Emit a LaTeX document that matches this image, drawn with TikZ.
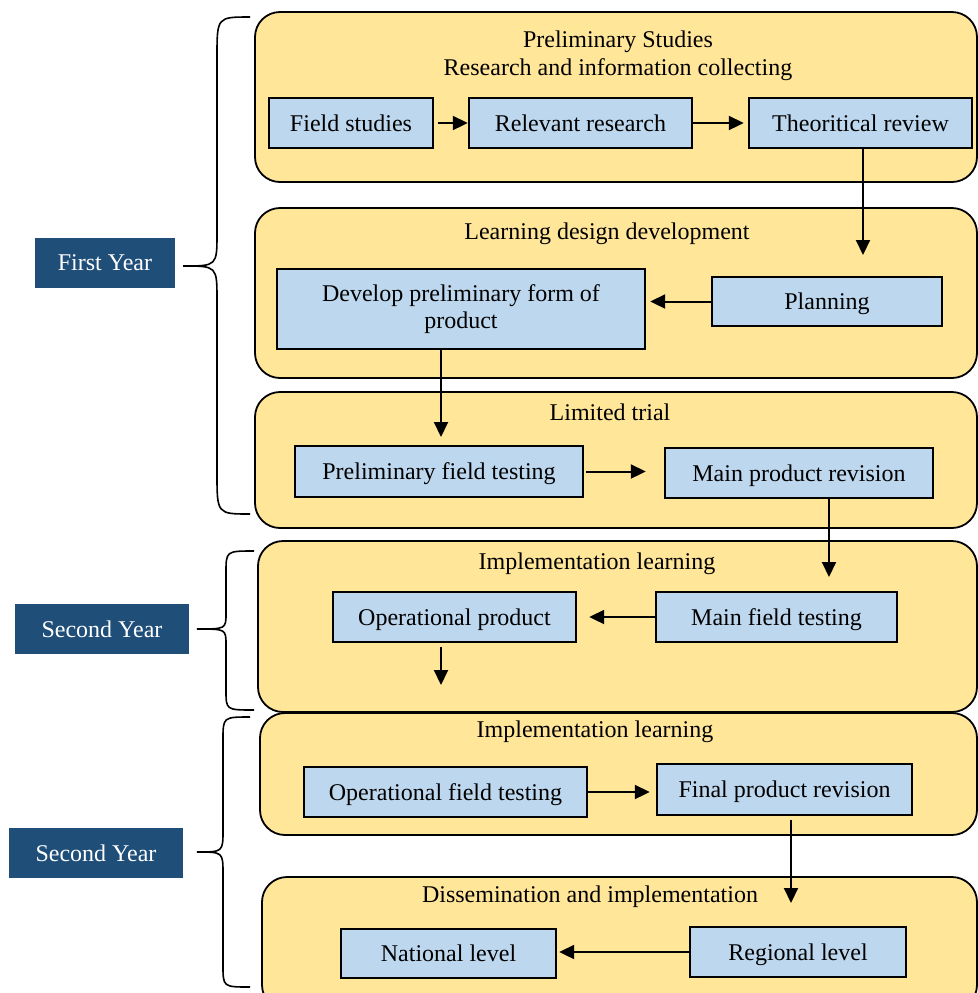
\documentclass[tikz,border=0pt]{standalone}
\usepackage{fontspec}
\setmainfont{Liberation Serif}
\usepackage{xcolor}
\usetikzlibrary{arrows.meta,positioning}

\definecolor{stagefill}{HTML}{FFE699}
\definecolor{stepfill}{HTML}{BDD7EE}
\definecolor{yearfill}{HTML}{1F4E79}

\begin{document}
\begin{tikzpicture}[
    x=0.5pt, y=-0.5pt,
    every node/.style={font=\fontsize{12}{13.8}\selectfont},
    stage/.style={draw, fill=stagefill, line width=0.9pt, rounded corners=12.5pt},
    title/.style={align=center, inner sep=0pt},
    stepbox/.style={rectangle, draw, fill=stepfill, line width=1.2pt, minimum height=25pt, inner sep=0pt, align=center, text height=8.4pt, text depth=0pt},
    year/.style={rectangle, fill=yearfill, text=white, minimum height=25pt, inner sep=0pt},
    arrow/.style={-{Triangle[length=7.5pt,width=7pt]}, line width=1pt},
    brace/.style={line width=0.8pt}
]
    \path[use as bounding box] (0,0) rectangle (978,993);

    % Stage frames
    \draw[stage] (255,12) rectangle (977,182);
    \draw[stage] (255,208) rectangle (977,378);
    \draw[stage] (255,392) rectangle (977,528);
    \draw[stage] (258,541) rectangle (977,712);
    \draw[stage] (260,713) rectangle (977,835);
    \draw[stage] (262,877) rectangle (977,1010);

    % Stage titles
    \node[title] (studiesTitle) at (618,56) {Preliminary Studies\\Research and information collecting};
    \node[title] (designTitle) at (607,234) {Learning design development};
    \node[title] (trialTitle) at (610,412) {Limited trial};
    \node[title] (implTitleA) at (597,564) {Implementation learning};
    \node[title] (implTitleB) at (595,732) {Implementation learning};
    \node[title] (dissTitle) at (590,897) {Dissemination and implementation};

    % Preliminary studies
    \node[stepbox, minimum width=82pt] (field) at (351,123) {Field studies};
    \node[stepbox, minimum width=111.5pt] (relevant) at (580.5,123) {Relevant research};
    \node[stepbox, minimum width=111.5pt] (theory) at (860.5,123) {Theoritical review};

    % Learning design development
    \node[stepbox, text height={}, text depth={}, minimum width=184pt, minimum height=40pt] (develop) at (461,309) {Develop preliminary form of\\product};
    \node[stepbox, minimum width=115pt, minimum height=24.5pt] (planning) at (827,301.5) {Planning};

    % Limited trial
    \node[stepbox, minimum width=144pt, minimum height=25.5pt] (prelim) at (439,471.5) {Preliminary field testing};
    \node[stepbox, minimum width=134pt] (mainrev) at (799,473) {Main product revision};

    % Implementation learning
    \node[stepbox, minimum width=121.5pt] (opprod) at (454.5,617) {Operational product};
    \node[stepbox, minimum width=120.5pt] (mainfield) at (776.5,617) {Main field testing};
    \node[stepbox, minimum width=141.5pt] (opfield) at (445.5,792) {Operational field testing};
    \node[stepbox, minimum width=127.5pt, minimum height=25.5pt] (finalrev) at (784.5,789.5) {Final product revision};

    % Dissemination
    \node[stepbox, minimum width=107.5pt, minimum height=24.5pt] (national) at (448.5,953.5) {National level};
    \node[stepbox, minimum width=108pt] (regional) at (798,952) {Regional level};

    % Year labels
    \node[year, minimum width=70pt] (firstYear) at (105,263) {First Year};
    \node[year, minimum width=87pt] (secondYearA) at (102,629) {Second Year};
    \node[year, minimum width=87pt] (secondYearB) at (96,853) {Second Year};

    % Braces
    \draw[brace] (250,17) .. controls (217,17) .. (217,57) -- (217,233)
        .. controls (217,266) .. (183,266) .. controls (217,266) .. (217,300)
        -- (217,473) .. controls (217,514) .. (250,514);
    \draw[brace] (254,551) .. controls (226,551) .. (226,573) -- (226,613)
        .. controls (226,629) .. (197,629) .. controls (226,629) .. (226,645)
        -- (226,690) .. controls (226,710) .. (254,710);
    \draw[brace] (250,717) .. controls (223,717) .. (223,740) -- (223,830)
        .. controls (223,852) .. (197,852) .. controls (223,852) .. (223,874)
        -- (223,965) .. controls (223,987) .. (250,987);

    % Flow arrows
    \coordinate (planIn) at (863,255);
    \coordinate (prelimIn) at (441,437);
    \coordinate (fieldIn) at (829,577);
    \coordinate (opOut) at (441,685);
    \coordinate (dissIn) at (791,903);

    \draw[arrow, shorten <=2pt] (field) -- (relevant);
    \draw[arrow, shorten >=2pt] (relevant) -- (theory);
    \draw[arrow] (theory.south -| planIn) -- (planIn);
    \draw[arrow, shorten >=2pt] (planning.west) -- (planning.west -| develop.east);
    \draw[arrow] (develop.south -| prelimIn) -- (prelimIn);
    \draw[arrow, shorten <=1pt, shorten >=9pt] (prelim.east) -- (prelim.east -| mainrev.west);
    \draw[arrow] (mainrev.south -| fieldIn) -- (fieldIn);
    \draw[arrow, shorten >=6pt] (mainfield.west) -- (mainfield.west -| opprod.east);
    \draw[arrow, shorten <=2pt] (opprod.south -| opOut) -- (opOut);
    \draw[arrow, shorten >=3pt] (opfield.east) -- (opfield.east -| finalrev.west);
    \draw[arrow, shorten <=2pt] (finalrev.south -| dissIn) -- (dissIn);
    \draw[arrow, shorten >=1pt] (regional.west) -- (regional.west -| national.east);

\end{tikzpicture}
\end{document}
